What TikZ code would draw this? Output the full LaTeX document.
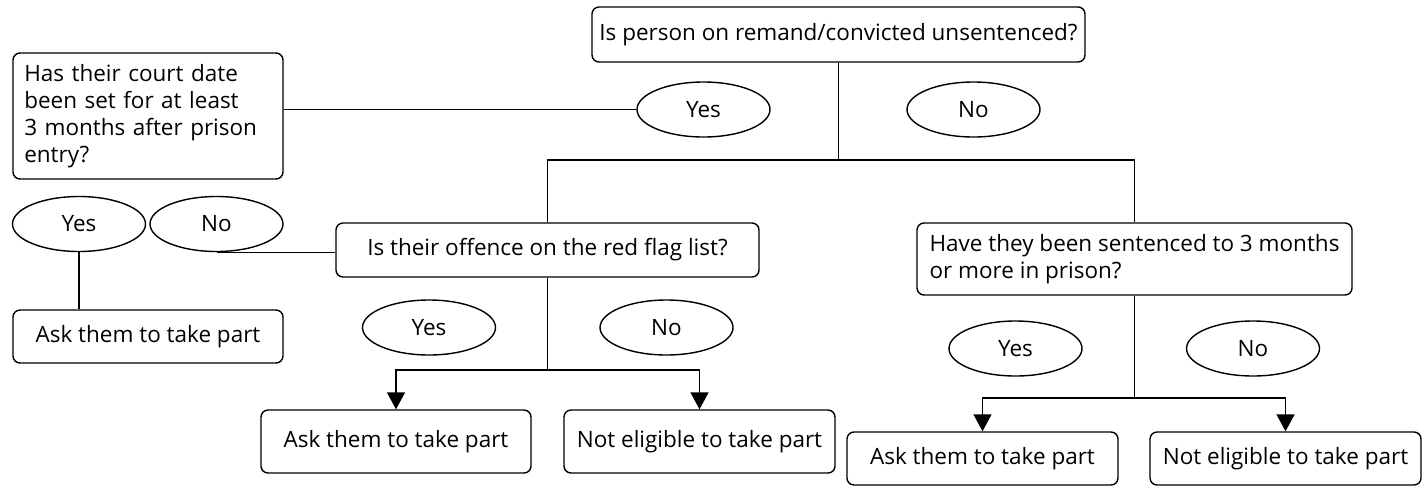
\documentclass[tikz,border=0pt]{standalone}
\usepackage{fontspec}
\setmainfont{Open Sans}
\usepackage{tikz}
\usetikzlibrary{arrows.meta, positioning, shapes.geometric}

\begin{document}
\begin{tikzpicture}[
    >={Triangle[width=0.36cm, length=0.34cm]},
    line width=0.8pt,
    box/.style={rounded corners=4pt, draw, minimum height=1.06cm,
              inner sep=2pt, font=\fontsize{12.8}{15.4}\selectfont},
    qbox/.style={box, align=left, text width=#1},
    ans/.style={ellipse, draw, minimum width=2.66cm, minimum height=1.1cm,
              inner sep=0pt, font=\fontsize{12.8}{15.4}\selectfont},
]
  \useasboundingbox (0,0) rectangle (28.44,-9.72);

  % first question
  \node[box, minimum width=9.86cm, minimum height=1.1cm] (remand) at (16.77,-0.69)
    {Is person on remand/convicted unsentenced?};
  \node[ans] (remyes) at (14.07,-2.19) {Yes};
  \node[ans] (remno) at (19.47,-2.19) {No};

  % remand: yes
  \node[qbox=4.95cm, minimum width=5.4cm, minimum height=2.52cm] (court) at (2.96,-2.32)
    {Has their court date\\been set for at least\\3 months after prison\\entry?};
  \node[ans] (courtyes) at (1.58,-4.48) {Yes};
  \node[ans] (courtno) at (4.33,-4.48) {No};
  \node[box, minimum width=5.4cm] (courtask) at (2.96,-6.73) {Ask them to take part};

  \node[box, minimum width=8.46cm, minimum height=1.08cm] (flag) at (10.95,-5.0)
    {Is their offence on the red flag list?};
  \node[ans] (flagyes) at (8.58,-6.55) {Yes};
  \node[ans] (flagno) at (13.33,-6.55) {No};
  \node[box, minimum width=5.4cm, minimum height=1.26cm] (flagask) at (7.92,-8.83)
    {Ask them to take part};
  \node[box, minimum width=5.42cm, minimum height=1.26cm] (flagnot) at (13.99,-8.83)
    {Not eligible to take part};

  % remand: no
  \node[box, align=left, minimum width=8.7cm, minimum height=1.44cm] (sent) at (22.69,-5.18)
    {Have they been sentenced to 3 months\\or more in prison?};
  \node[ans] (sentyes) at (20.31,-6.97) {Yes};
  \node[ans] (sentno) at (25.06,-6.97) {No};
  \node[box, minimum width=5.42cm] (sentask) at (19.65,-9.17) {Ask them to take part};
  \node[box, minimum width=5.42cm] (sentnot) at (25.71,-9.17) {Not eligible to take part};

  \coordinate (split) at (16.77,-3.2);
  \coordinate (flagsplit) at (10.95,-7.4);
  \coordinate (sentsplit) at (22.69,-7.96);

  \draw (remand) -- (split);
  \draw (flag.north) |- (split) -| (sent.north);
  \draw (remyes.west) -- (remyes.west -| court.east);
  \draw (courtno.south) -- (courtno.south -| flag.west);
  \draw (courtyes.south) -- (courtyes.south |- courtask.north);
  \draw (flag) -- (flagsplit);
  \draw[->] (flagsplit) -| (flagask.north);
  \draw[->] (flagsplit) -| (flagnot.north);
  \draw (sent) -- (sentsplit);
  \draw[->] (sentsplit) -| (sentask.north);
  \draw[->] (sentsplit) -| (sentnot.north);
\end{tikzpicture}
\end{document}
